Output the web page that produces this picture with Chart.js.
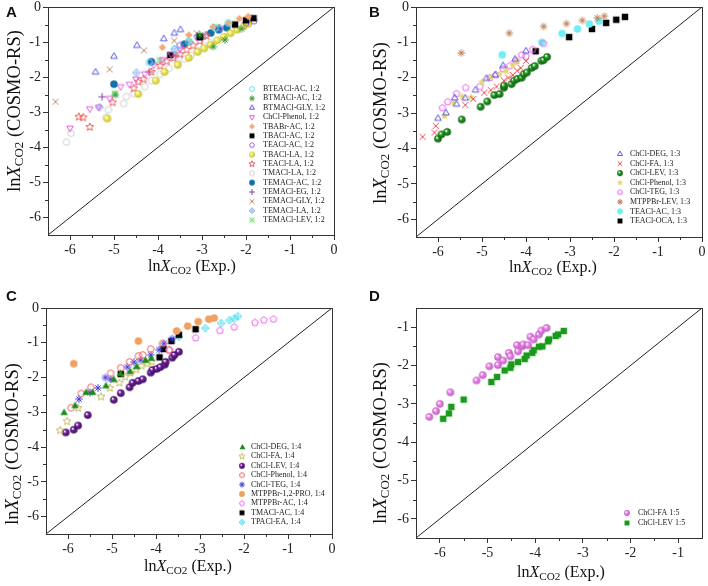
<!DOCTYPE html>
<html>
<head>
<meta charset="utf-8">
<script src="https://cdn.jsdelivr.net/npm/chart.js@4.4.1/dist/chart.umd.min.js"></script>
<style>
  body { margin: 0; background: #fff; width: 708px; height: 586px; position: relative; overflow: hidden; font-family: "Liberation Serif", "Times New Roman", serif; }
  canvas { position: absolute; }
  .tag { position: absolute; font: bold 15px "Liberation Sans", Arial, sans-serif; color: #111; }
  .xt, .yt { position: absolute; white-space: nowrap; color: #111; }
  .xt { font-size: 16px; transform: translate(-50%, -50%); }
  .yt { font-size: 18.5px; transform: translate(-50%, -50%) rotate(-90deg); }
  sub { font-size: 0.7em; vertical-align: -0.25em; line-height: 0; }
</style>
</head>
<body>
<canvas id="chartA" width="354" height="293" style="left:0;top:0"></canvas>
<canvas id="chartB" width="354" height="293" style="left:354px;top:0"></canvas>
<canvas id="chartC" width="354" height="293" style="left:0;top:293px"></canvas>
<canvas id="chartD" width="354" height="293" style="left:354px;top:293px"></canvas>

<div class="tag" style="left:6px;top:3px">A</div>
<div class="tag" style="left:369px;top:3px">B</div>
<div class="tag" style="left:6px;top:287px">C</div>
<div class="tag" style="left:369px;top:287px">D</div>

<div class="xt" style="left:192px;top:266px">ln<i>X</i><sub>CO2</sub> (Exp.)</div>
<div class="yt" style="left:14px;top:111px">ln<i>X</i><sub>CO2</sub> (COSMO-RS)</div>
<div class="xt" style="left:553px;top:267px">ln<i>X</i><sub>CO2</sub> (Exp.)</div>
<div class="yt" style="left:380px;top:123px">ln<i>X</i><sub>CO2</sub> (COSMO-RS)</div>
<div class="xt" style="left:188px;top:566px">ln<i>X</i><sub>CO2</sub> (Exp.)</div>
<div class="yt" style="left:12px;top:444px">ln<i>X</i><sub>CO2</sub> (COSMO-RS)</div>
<div class="xt" style="left:561px;top:572px">ln<i>X</i><sub>CO2</sub> (Exp.)</div>
<div class="yt" style="left:380px;top:443px">ln<i>X</i><sub>CO2</sub> (COSMO-RS)</div>

<script>
// ---- tick values ----
const ticksFull = [-6, -5, -4, -3, -2, -1, 0];
const minorFull = [-6.5, -5.5, -4.5, -3.5, -2.5, -1.5, -0.5];
const ticksD = [-6, -5, -4, -3, -2, -1];
const minorD = [-6.5, -5.5, -4.5, -3.5, -2.5, -1.5, -0.5];
const diagFull = [[-6.5, -6.5], [0, 0]];
const diagD = [[-6.5, -6.5], [-0.5, -0.5]];

// ---- Panel A (1:2) ----
const aNames = ["BTEACl-AC, 1:2", "BTMACl-AC, 1:2", "BTMACl-GLY, 1:2", "ChCl-Phenol, 1:2", "TBABr-AC, 1:2",
  "TBACl-AC, 1:2", "TEACl-AC, 1:2", "TBACl-LA, 1:2", "TEACl-LA, 1:2", "TMACl-LA, 1:2",
  "TEMACl-AC, 1:2", "TEMACl-EG, 1:2", "TEMACl-GLY, 1:2", "TEMACl-LA, 1:2", "TEMACl-LEV, 1:2"];
const aBTEAClAC = [[-4.2, -1.58], [-3.62, -1.2], [-3.3, -0.98], [-2.7, -0.6], [-2.4, -0.46]];
const aBTMAClAC = [[-4.97, -2.5], [-3.05, -0.8], [-2.74, -1.13], [-2.48, -0.94], [-2.1, -0.62]];
const aBTMAClGLY = [[-5.42, -1.86], [-5.0, -1.41], [-4.48, -1.1], [-3.87, -0.91], [-3.63, -0.75], [-3.49, -0.65]];
const aChClPhenol = [[-6.0, -3.45], [-5.55, -2.9], [-5.35, -2.85], [-5.1, -2.6], [-4.85, -2.27], [-4.65, -2.2],
  [-4.5, -2.05], [-4.3, -1.9], [-4.1, -1.65], [-3.9, -1.5], [-3.7, -1.35], [-3.5, -1.2]];
const aTBABrAC = [[-3.9, -1.15], [-3.3, -0.8], [-2.75, -0.57], [-2.4, -0.45], [-2.15, -0.33], [-1.95, -0.27]];
const aTBAClAC = [[-3.72, -1.37], [-3.05, -0.85], [-2.25, -0.5], [-2.0, -0.38], [-1.83, -0.32]];
const aTEAClAC = [[-3.5, -1.1], [-3.1, -0.85], [-2.6, -0.6], [-2.0, -0.45], [-1.82, -0.4]];
const aTBAClLA = [[-5.15, -3.18], [-4.45, -2.48], [-4.05, -2.1], [-3.85, -1.85], [-3.55, -1.65], [-3.3, -1.45],
  [-3.1, -1.28], [-2.95, -1.18], [-2.8, -1.08], [-2.65, -0.95], [-2.5, -0.85], [-2.35, -0.75],
  [-2.2, -0.65], [-2.05, -0.55], [-1.95, -0.48]];
const aTEAClLA = [[-5.8, -3.13], [-5.7, -3.15], [-5.55, -3.42], [-5.03, -2.72], [-4.55, -2.32], [-4.45, -2.13],
  [-4.33, -2.06], [-4.15, -1.85], [-3.95, -1.68], [-3.8, -1.55], [-3.65, -1.45], [-3.5, -1.35],
  [-3.35, -1.22], [-3.2, -1.1], [-3.05, -0.97], [-2.9, -0.82]];
const aTMAClLA = [[-6.08, -3.85], [-5.98, -3.6], [-5.18, -3.15], [-5.13, -2.93], [-4.78, -2.75], [-4.72, -2.55],
  [-4.55, -2.47], [-4.3, -2.27], [-4.15, -2.1], [-3.95, -1.92], [-3.75, -1.75], [-3.55, -1.6],
  [-3.4, -1.48], [-3.25, -1.38], [-3.1, -1.25], [-2.95, -1.12], [-2.8, -1.02]];
const aTEMAClAC = [[-5.0, -2.2], [-4.15, -1.56], [-3.4, -1.06], [-3.05, -0.85], [-2.8, -0.74], [-2.62, -0.65], [-2.44, -0.59]];
const aTEMAClEG = [[-5.27, -2.56], [-4.2, -1.85], [-3.6, -1.38], [-3.0, -0.9]];
const aTEMAClGLY = [[-6.33, -2.7], [-5.1, -1.78], [-4.32, -1.24], [-3.63, -0.96], [-3.12, -0.75]];
const aTEMAClLA = [[-5.33, -2.86], [-4.49, -1.87], [-3.62, -1.2], [-3.3, -0.98], [-2.92, -0.8]];
const aTEMAClLEV = [[-4.98, -2.47], [-3.96, -1.52], [-3.3, -1.0], [-3.0, -0.83], [-2.68, -0.57]];

// ---- Panel B (1:3) ----
const bNames = ["ChCl-DEG, 1:3", "ChCl-FA, 1:3", "ChCl-LEV, 1:3", "ChCl-Phenol, 1:3", "ChCl-TEG, 1:3",
  "MTPPBr-LEV, 1:3", "TEACl-AC, 1:3", "TEACl-OCA, 1:3"];
const bChClDEG = [[-6.0, -3.15], [-5.82, -3.0], [-5.62, -2.57], [-5.58, -2.75], [-5.38, -2.58], [-5.15, -2.35],
  [-4.9, -2.02], [-4.7, -1.92], [-4.52, -1.66], [-4.25, -1.48], [-4.0, -1.25]];
const bChClFA = [[-6.35, -3.67], [-6.08, -3.55], [-6.05, -3.36], [-5.38, -2.77], [-5.2, -2.6], [-4.95, -2.42],
  [-4.8, -2.35], [-4.67, -2.25], [-4.5, -2.08], [-4.4, -2.0], [-4.3, -1.92], [-4.2, -1.8], [-4.12, -1.72], [-4.0, -1.52]];
const bChClLEV = [[-6.0, -3.72], [-5.92, -3.6], [-5.79, -3.53], [-5.46, -3.18], [-5.03, -2.82], [-4.88, -2.67],
  [-4.72, -2.49], [-4.6, -2.46], [-4.5, -2.28], [-4.5, -2.22], [-4.33, -2.18], [-4.27, -2.08], [-4.2, -2.03],
  [-4.1, -2.0], [-4.05, -1.9], [-3.98, -1.85], [-3.87, -1.72], [-3.8, -1.67], [-3.65, -1.52], [-3.6, -1.5], [-3.52, -1.41]];
const bChClPhenol = [[-5.85, -3.08], [-5.65, -2.7], [-5.45, -2.53], [-5.25, -2.55], [-5.0, -2.12], [-4.8, -1.98],
  [-4.6, -1.9], [-4.45, -1.8], [-4.3, -1.65], [-4.2, -1.52]];
const bChClTEG = [[-5.9, -2.85], [-5.78, -2.68], [-5.58, -2.45], [-5.37, -2.28], [-5.05, -2.25], [-4.82, -2.0],
  [-4.68, -1.92], [-4.52, -1.75], [-4.37, -1.66], [-4.22, -1.52], [-4.1, -1.35], [-4.0, -1.4], [-3.85, -1.2], [-3.6, -1.03]];
const bMTPPBrLEV = [[-5.47, -1.3], [-4.38, -0.74], [-3.6, -0.55], [-3.08, -0.47], [-2.72, -0.38], [-2.38, -0.31], [-2.22, -0.26]];
const bTEAClAC = [[-4.54, -1.35], [-3.64, -1.0], [-3.18, -0.75], [-2.83, -0.62], [-2.56, -0.48], [-2.34, -0.4]];
const bTEAClOCA = [[-3.78, -1.25], [-3.02, -0.85], [-2.5, -0.62], [-2.18, -0.45], [-1.95, -0.36], [-1.75, -0.28]];

// ---- Panel C (1:4) ----
const cNames = ["ChCl-DEG, 1:4", "ChCl-FA, 1:4", "ChCl-LEV, 1:4", "ChCl-Phenol, 1:4", "ChCl-TEG, 1:4",
  "MTPPBr-1,2-PRO, 1:4", "MTPPBr-AC, 1:4", "TMACl-AC, 1:4", "TPACl-EA, 1:4"];
const cChClDEG = [[-6.1, -3.0], [-5.85, -2.8], [-5.6, -2.42], [-5.45, -2.42], [-5.15, -2.23], [-4.97, -2.05],
  [-4.82, -1.88], [-4.6, -1.82], [-4.45, -1.68], [-4.25, -1.5], [-4.12, -1.44]];
const cChClFA = [[-6.18, -3.52], [-6.02, -3.26], [-5.77, -2.88], [-5.25, -2.55], [-5.05, -2.3], [-4.83, -2.15],
  [-4.7, -1.98], [-4.58, -1.87], [-4.45, -1.77], [-4.33, -1.66], [-4.2, -1.6], [-4.1, -1.55]];
const cChClLEV = [[-6.05, -3.58], [-5.87, -3.5], [-5.77, -3.38], [-5.55, -3.08], [-4.96, -2.64], [-4.8, -2.45],
  [-4.6, -2.28], [-4.53, -2.15], [-4.4, -2.1], [-4.3, -2.05], [-4.12, -1.86], [-4.08, -1.78], [-3.98, -1.75],
  [-3.9, -1.7], [-3.8, -1.63], [-3.78, -1.55], [-3.63, -1.43], [-3.58, -1.35], [-3.48, -1.26]];
const cChClPhenol = [[-5.93, -2.87], [-5.7, -2.46], [-5.48, -2.28], [-5.03, -1.88], [-4.8, -1.72], [-4.6, -1.55],
  [-4.4, -1.38], [-4.3, -1.35], [-4.12, -1.18], [-3.85, -1.02], [-3.7, -1.2]];
const cChClTEG = [[-5.75, -2.62], [-5.5, -2.43], [-5.32, -2.3], [-5.15, -2.0], [-5.03, -2.05], [-4.65, -1.7],
  [-4.5, -1.56], [-4.35, -1.5], [-4.12, -1.35], [-3.93, -1.2], [-3.82, -1.02], [-3.63, -0.88]];
const cMTPPBrPRO = [[-5.87, -1.6], [-4.4, -0.95], [-3.53, -0.66], [-3.28, -0.52], [-3.04, -0.39], [-2.8, -0.32], [-2.68, -0.29]];
const cMTPPBrAC = [[-3.7, -1.22], [-3.1, -0.86], [-2.55, -0.65], [-2.22, -0.55], [-1.75, -0.42], [-1.55, -0.35], [-1.33, -0.32]];
const cTMAClAC = [[-4.8, -1.9], [-3.92, -1.42], [-3.83, -1.18], [-3.65, -0.95], [-3.48, -0.77], [-3.1, -0.61]];
const cTPAClEA = [[-3.48, -0.83], [-2.88, -0.58], [-2.52, -0.44], [-2.33, -0.35], [-2.22, -0.3], [-2.14, -0.24]];

// ---- Panel D (1:5) ----
const dNames = ["ChCl-FA 1:5", "ChCl-LEV 1:5"];
const dChClFA = [[-6.22, -3.34], [-6.08, -3.19], [-6.0, -3.0], [-5.78, -2.7], [-5.23, -2.39], [-5.1, -2.25],
  [-4.96, -2.02], [-4.78, -1.99], [-4.78, -1.78], [-4.67, -1.87], [-4.55, -1.67], [-4.52, -1.76],
  [-4.38, -1.47], [-4.36, -1.63], [-4.27, -1.5], [-4.25, -1.45], [-4.15, -1.47], [-4.1, -1.25],
  [-4.03, -1.32], [-3.92, -1.19], [-3.87, -1.09], [-3.76, -1.02]];
const dChClLEV = [[-5.93, -3.39], [-5.81, -3.25], [-5.76, -3.08], [-5.5, -2.89], [-4.92, -2.43], [-4.8, -2.3],
  [-4.64, -2.13], [-4.52, -2.06], [-4.5, -1.97], [-4.36, -1.91], [-4.22, -1.83], [-4.18, -1.74],
  [-4.06, -1.67], [-4.03, -1.6], [-3.92, -1.51], [-3.85, -1.5], [-3.73, -1.37], [-3.71, -1.32],
  [-3.57, -1.23], [-3.52, -1.19], [-3.4, -1.1]];

// marker drawing (returned canvases are used as Chart.js pointStyle)
function shade(hex, f) {
  const n = parseInt(hex.slice(1), 16);
  const r = Math.round(((n >> 16) & 255) * f), g = Math.round(((n >> 8) & 255) * f), b = Math.round((n & 255) * f);
  return `rgb(${r},${g},${b})`;
}
function poly(g, m, r, n, start) {
  for (let i = 0; i < n; i++) {
    const a = start + i * 2 * Math.PI / n;
    const px = m + r * Math.cos(a), py = m + r * Math.sin(a);
    i ? g.lineTo(px, py) : g.moveTo(px, py);
  }
  g.closePath();
}
function star(g, m, r) {
  for (let i = 0; i < 10; i++) {
    const a = -Math.PI / 2 + i * Math.PI / 5;
    const rr = i % 2 ? r * 0.45 : r;
    const px = m + rr * Math.cos(a), py = m + rr * Math.sin(a);
    i ? g.lineTo(px, py) : g.moveTo(px, py);
  }
  g.closePath();
}
function marker(kind, color, r, dark) {
  const s = Math.ceil(r * 2 + 4);
  const c = document.createElement("canvas");
  c.width = s; c.height = s;
  const g = c.getContext("2d");
  const m = s / 2;
  g.strokeStyle = color; g.fillStyle = color; g.lineWidth = 1;
  g.beginPath();
  switch (kind) {
    case "circleOpen": g.arc(m, m, r - 0.5, 0, 2 * Math.PI); g.stroke(); break;
    case "circleFill": g.arc(m, m, r, 0, 2 * Math.PI); g.fill(); break;
    case "ball": {
      const gr = g.createRadialGradient(m - r * 0.35, m - r * 0.35, r * 0.1, m, m, r);
      gr.addColorStop(0, "#ffffff");
      gr.addColorStop(0.4, color);
      gr.addColorStop(1, shade(color, dark || 0.6));
      g.fillStyle = gr; g.arc(m, m, r, 0, 2 * Math.PI); g.fill(); break;
    }
    case "triUp": poly(g, m, r, 3, -Math.PI / 2); g.stroke(); break;
    case "triUpFill": poly(g, m + 0.5, r + 0.5, 3, -Math.PI / 2); g.fill(); break;
    case "triDown": poly(g, m, r, 3, Math.PI / 2); g.stroke(); break;
    case "diamondFill": poly(g, m, r, 4, -Math.PI / 2); g.fill(); break;
    case "squareFill": g.rect(m - r * 0.85, m - r * 0.85, r * 1.7, r * 1.7); g.fill(); break;
    case "pentOpen": poly(g, m, r - 0.3, 5, -Math.PI / 2); g.stroke(); break;
    case "starOpen": star(g, m, r + 0.3); g.stroke(); break;
    case "starFill": star(g, m, r + 0.5); g.fill(); break;
    case "asterisk":
      for (let i = 0; i < 4; i++) {
        const a = i * Math.PI / 4;
        g.moveTo(m - r * Math.cos(a), m - r * Math.sin(a));
        g.lineTo(m + r * Math.cos(a), m + r * Math.sin(a));
      }
      g.stroke(); break;
    case "plus":
      g.moveTo(m - r, m); g.lineTo(m + r, m); g.moveTo(m, m - r); g.lineTo(m, m + r); g.stroke(); break;
    case "x": {
      const k = r * 0.8;
      g.moveTo(m - k, m - k); g.lineTo(m + k, m + k); g.moveTo(m - k, m + k); g.lineTo(m + k, m - k); g.stroke(); break;
    }
    case "diamondCross":
      poly(g, m, r, 4, -Math.PI / 2);
      g.moveTo(m - r, m); g.lineTo(m + r, m); g.moveTo(m, m - r); g.lineTo(m, m + r); g.stroke(); break;
    case "squareX": {
      const k = r * 0.85;
      g.globalAlpha = 0.55; g.fillRect(m - k, m - k, 2 * k, 2 * k); g.globalAlpha = 1;
      g.moveTo(m - k, m - k); g.lineTo(m + k, m + k); g.moveTo(m - k, m + k); g.lineTo(m + k, m - k); g.stroke(); break;
    }
  }
  return c;
}

// frame, minor ticks and in-plot legend
const panelDeco = {
  id: "panelDeco",
  afterDraw(chart, args, opts) {
    const { ctx, chartArea: a, scales } = chart;
    ctx.save();
    ctx.strokeStyle = "#333";
    ctx.lineWidth = 1;
    ctx.strokeRect(Math.round(a.left) + 0.5, Math.round(a.top) + 0.5, Math.round(a.right - a.left), Math.round(a.bottom - a.top));
    ctx.beginPath();
    opts.minor.forEach(v => {
      const px = Math.round(scales.x.getPixelForValue(v)) + 0.5;
      if (px > a.left + 1 && px < a.right - 1) { ctx.moveTo(px, a.bottom); ctx.lineTo(px, a.bottom + 3); }
      const py = Math.round(scales.y.getPixelForValue(v)) + 0.5;
      if (py > a.top + 1 && py < a.bottom - 1) { ctx.moveTo(a.left, py); ctx.lineTo(a.left - 3, py); }
    });
    ctx.stroke();

    const L = opts.legend;
    ctx.font = "8px 'Liberation Serif', serif";
    ctx.fillStyle = "#222";
    ctx.textBaseline = "middle";
    chart.data.datasets.filter(d => d.legendMark).forEach((d, i) => {
      const y = L.y + i * L.step;
      const img = d.legendMark;
      ctx.drawImage(img, L.mx - img.width / 2, y - img.height / 2);
      ctx.fillText(d.label, L.tx, y);
    });
    ctx.restore();
  }
};

const toXY = arr => arr.map(([x, y]) => ({ x, y }));

function makePanel(id, names, series, styles, cfg) {
  const datasets = [{
    type: "line", label: "diag", data: toXY(cfg.diag),
    borderColor: "#222", borderWidth: 1, pointRadius: 0, order: 2
  }];
  series.forEach((s, i) => {
    const [kind, color, dark] = styles[i];
    datasets.push({
      type: "scatter", label: names[i], data: toXY(s),
      pointStyle: marker(kind, color, 3.8, dark), pointRadius: 3.8, pointHoverRadius: 3.8,
      legendMark: marker(kind, color, 2.9, dark), order: 1
    });
  });
  const W = 354, H = 293, A = cfg.area;
  const tickFont = { family: "'Liberation Serif', serif", size: 14 };
  const axis = (min, max, ticks, fit) => ({
    type: "linear", min, max,
    afterBuildTicks: s => { s.ticks = ticks.map(v => ({ value: v })); },
    afterFit: fit,
    grid: { drawOnChartArea: false, drawTicks: true, tickLength: 5, color: "#333" },
    border: { color: "#333", width: 1 },
    ticks: { font: tickFont, color: "#222", padding: 2, callback: v => String(v) }
  });
  return new Chart(document.getElementById(id), {
    data: { datasets },
    options: {
      responsive: false, animation: false, events: [],
      layout: { padding: { left: 0, top: A.top, right: W - A.right, bottom: 0 } },
      plugins: {
        legend: { display: false }, tooltip: { enabled: false },
        panelDeco: { minor: cfg.minor, legend: cfg.legend }
      },
      scales: {
        x: axis(cfg.xr[0], cfg.xr[1], cfg.ticks, s => { s.height = H - A.bottom; s.paddingLeft = 0; s.paddingRight = 0; }),
        y: axis(cfg.yr[0], cfg.yr[1], cfg.ticks, s => { s.width = A.left; s.paddingTop = 0; s.paddingBottom = 0; })
      }
    },
    plugins: [panelDeco]
  });
}

makePanel("chartA", aNames,
  [aBTEAClAC, aBTMAClAC, aBTMAClGLY, aChClPhenol, aTBABrAC, aTBAClAC, aTEAClAC, aTBAClLA, aTEAClLA, aTMAClLA,
    aTEMAClAC, aTEMAClEG, aTEMAClGLY, aTEMAClLA, aTEMAClLEV],
  [["circleOpen", "#5fe2f0"], ["asterisk", "#3c9a3c"], ["triUp", "#5a5ae6"], ["triDown", "#e45ee4"],
    ["diamondFill", "#f2a878"], ["squareFill", "#000000"], ["pentOpen", "#9a5ef0"], ["ball", "#f0e84a", 0.82],
    ["starOpen", "#f05a5a"], ["circleOpen", "#d0d0d0"], ["circleFill", "#1070a8"], ["plus", "#8040a0"],
    ["x", "#c08a60"], ["diamondCross", "#90b0f0"], ["squareX", "#80e880"]],
  { area: { left: 48, top: 7, right: 334, bottom: 235 }, xr: [-6.5, 0], yr: [-6.5, 0], ticks: ticksFull,
    minor: minorFull, diag: diagFull, legend: { mx: 252, tx: 263, y: 89, step: 9.36 } });

makePanel("chartB", bNames,
  [bChClDEG, bChClFA, bChClLEV, bChClPhenol, bChClTEG, bMTPPBrLEV, bTEAClAC, bTEAClOCA],
  [["triUp", "#5a5ae6"], ["x", "#f05050"], ["ball", "#1a9a1a"], ["starFill", "#e8d870"],
    ["pentOpen", "#f060f0"], ["asterisk", "#c07a50"], ["circleFill", "#70eef2"], ["squareFill", "#000000"]],
  { area: { left: 62, top: 7, right: 348, bottom: 237 }, xr: [-6.5, 0], yr: [-6.5, 0], ticks: ticksFull,
    minor: minorFull, diag: diagFull, legend: { mx: 266, tx: 276, y: 154, step: 9.57 } });

makePanel("chartC", cNames,
  [cChClDEG, cChClFA, cChClLEV, cChClPhenol, cChClTEG, cMTPPBrPRO, cMTPPBrAC, cTMAClAC, cTPAClEA],
  [["triUpFill", "#1a8a1a"], ["starOpen", "#c8b860"], ["ball", "#6a1a9a"], ["circleOpen", "#f06060"],
    ["asterisk", "#3a3ae0"], ["circleFill", "#f0a060"], ["pentOpen", "#f060f0"], ["squareFill", "#000000"],
    ["diamondCross", "#50e0f0"]],
  { area: { left: 46, top: 15, right: 332, bottom: 241 }, xr: [-6.5, 0], yr: [-6.5, 0], ticks: ticksFull,
    minor: minorFull, diag: diagFull, legend: { mx: 242, tx: 251, y: 154, step: 9.4 } });

makePanel("chartD", dNames,
  [dChClFA, dChClLEV],
  [["ball", "#f080f0", 0.75], ["squareFill", "#1a9a1a"]],
  { area: { left: 62, top: 15, right: 348, bottom: 245 }, xr: [-6.5, -0.5], yr: [-6.5, -0.5], ticks: ticksD,
    minor: minorD, diag: diagD, legend: { mx: 273, tx: 284, y: 220, step: 10 } });
</script>
</body>
</html>
